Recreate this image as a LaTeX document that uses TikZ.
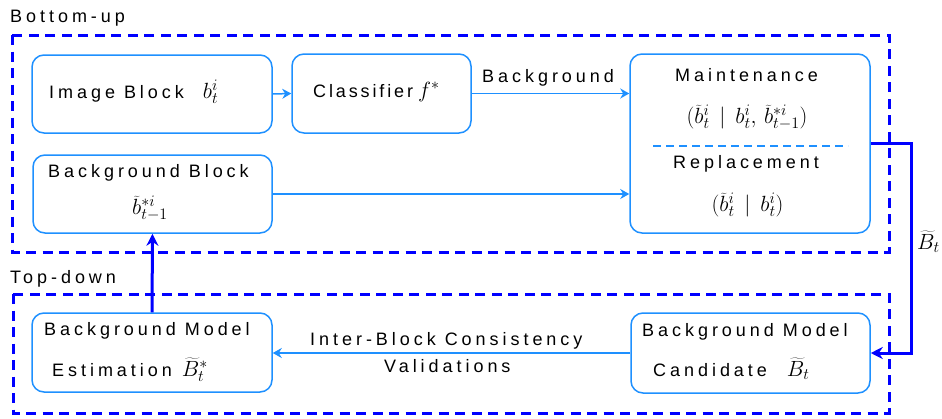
\RequirePackage{fix-cm}
\documentclass[tikz,border=0pt]{standalone}
\usepackage{fontspec}
\setmainfont{Liberation Sans}[LetterSpace=22]
\usetikzlibrary{arrows.meta}
\definecolor{boxblue}{RGB}{30,144,255}
\definecolor{grpblue}{RGB}{0,0,255}
% formulas are set somewhat larger than the surrounding words
\DeclareMathSizes{18}{22}{16}{12}
\begin{document}
\fontsize{18}{22}\selectfont
\begin{tikzpicture}[x=1pt,y=-1pt,
  font=\fontsize{18}{22}\selectfont,
  blk/.style={draw=boxblue, line width=1.5pt, rounded corners=12pt, inner sep=0pt},
  grp/.style={draw=grpblue, line width=3pt, dash pattern=on 10pt off 6.5pt},
  flow/.style={draw=boxblue, line width=1.5pt, -{Stealth[length=9pt,width=10pt]}},
  feed/.style={draw=grpblue, line width=3pt, -{Stealth[length=12pt,width=12pt]}},
  txt/.style={inner sep=0pt, anchor=base west},
  frm/.style={inner sep=0pt, anchor=base}]

\useasboundingbox (0,0) rectangle (942,418);

% group frames and their titles
\draw[grp] (12,35) rectangle (889,252);
\draw[grp] (13,294) rectangle (889,413);
\node[txt] (bu) at (10,22) {Bottom-up};
\node[txt] (td) at (10,283) {Top-down};

% blocks
\node[blk, minimum width=240pt, minimum height=78pt] (img) at (152,94) {};
\node[blk, minimum width=179pt, minimum height=79pt] (cls) at (381.5,93.5) {};
\node[blk, minimum width=240pt, minimum height=179pt] (maint) at (750,143.5) {};
\node[blk, minimum width=239pt, minimum height=78pt] (bgb) at (152.5,194) {};
\node[blk, minimum width=240pt, minimum height=79pt] (est) at (152,352.5) {};
\node[blk, minimum width=239pt, minimum height=80pt] (cand) at (750.5,353) {};

% block texts
\node[txt] (imgt) at (49,98) {Image Block\kern 19pt$b_t^i$};
\node[txt] (clst) at (313,97) {\addfontfeature{LetterSpace=16}Classifier\kern5pt$f^*$};
\node[txt] (mt) at (675,81) {Maintenance};
\node[frm] (mf) at (747,123) {$(\widetilde{b}_t^i \,\mid\, b_t^i,\, \widetilde{b}^{*i}_{t-1})$};
\node[txt] (rt) at (673,168) {Replacement};
\node[frm] (rf) at (747.5,211) {$(\widetilde{b}_t^i \,\mid\, b_t^i)$};
\node[txt] (bgbt) at (48,177) {Background Block};
\node[frm] (bgbf) at (150,214) {$\widetilde{b}^{*i}_{t-1}$};
\node[txt] (estt) at (44,335) {Background Model};
\node[txt] (estf) at (52,376) {Estimation\kern10pt$\widetilde{B}_t^*$};
\node[txt] (candt) at (642,336) {Background Model};
\node[txt] (candf) at (653,376) {Candidate\kern20pt$\widetilde{B}_t$};

% divider between the two update modes
\draw[boxblue, line width=1.5pt, dash pattern=on 8pt off 5pt] (653,146) -- (848,146);

% connectors
\draw[flow] (img.east) -- (cls.west);
\draw[flow] (cls.east) -- (cls.east -| maint.west);
\node[txt] (bgl) at (482,82) {Background};
\draw[flow] (bgb.east) -- (bgb.east -| maint.west);
\draw[flow] (cand.west) -- (cand.west -| est.east);
\node[txt] (ibc) at (310,345) {Inter-Block Consistency};
\node[txt] (val) at (384,372) {Validations};

\coordinate (turn) at (911,144);
\draw[feed] (maint.east) -- (maint.east -| turn) |- (cand.east);
\node[anchor=base west, inner sep=0pt] (btl) at (917,249) {$\widetilde{B}_t$};
\draw[feed] (est.north) -- (bgb.south);
\end{tikzpicture}
\end{document}
